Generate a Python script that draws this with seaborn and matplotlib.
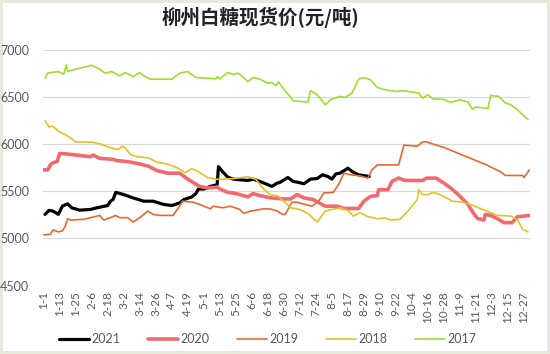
import pandas as pd
import seaborn as sns
import matplotlib.pyplot as plt

# day index (0 = 1-1) and spot price
days_2021 = [1, 4, 7, 11, 14, 18, 21, 27, 35, 40, 48, 50, 52, 54, 60, 67, 75, 82, 90, 96,
             102, 105, 111, 114, 116, 120, 125, 130, 131, 134, 138, 142, 153, 157, 162, 168, 171, 175, 177, 183,
             187, 191, 195, 200, 205, 209, 213, 216, 219, 222, 226, 228, 232, 236, 241, 244]
price_2021 = [5255, 5297, 5290, 5255, 5342, 5367, 5325, 5300, 5307, 5325, 5349, 5395, 5412, 5489, 5465, 5430, 5395, 5395, 5360, 5349,
              5377, 5412, 5440, 5475, 5524, 5524, 5552, 5570, 5762, 5709, 5650, 5629, 5615, 5629, 5605, 5570, 5552, 5587, 5594, 5647,
              5605, 5594, 5580, 5629, 5636, 5675, 5657, 5629, 5685, 5692, 5727, 5745, 5702, 5675, 5664, 5657]

days_2020 = [0, 3, 5, 7, 10, 12, 18, 35, 37, 42, 52, 55, 63, 72, 78, 85, 93, 102, 108, 112,
             117, 123, 130, 132, 138, 142, 147, 153, 157, 162, 170, 180, 185, 190, 195, 202, 211, 220, 225, 236,
             240, 245, 250, 251, 258, 261, 266, 271, 284, 287, 294, 300, 306, 312, 318, 321, 325, 330, 331, 335,
             340, 345, 351, 355, 360, 364]
price_2020 = [5727, 5727, 5780, 5804, 5815, 5902, 5895, 5867, 5885, 5850, 5839, 5825, 5815, 5790, 5769, 5720, 5692, 5692, 5629, 5594,
              5552, 5535, 5545, 5524, 5489, 5482, 5465, 5440, 5475, 5454, 5430, 5419, 5419, 5465, 5430, 5412, 5342, 5342, 5318, 5318,
              5395, 5447, 5454, 5517, 5517, 5605, 5640, 5615, 5615, 5640, 5640, 5587, 5524, 5447, 5360, 5290, 5212, 5195, 5255, 5244,
              5209, 5167, 5167, 5230, 5237, 5244]

days_2019 = [0, 5, 7, 11, 14, 16, 18, 20, 30, 42, 45, 50, 54, 57, 63, 67, 72, 78, 82, 87,
             97, 101, 104, 112, 117, 125, 127, 134, 140, 147, 150, 155, 165, 170, 175, 179, 181, 186, 190, 196,
             201, 206, 210, 217, 221, 225, 230, 237, 243, 246, 250, 266, 270, 280, 284, 287, 292, 297, 300, 332,
             342, 346, 359, 360, 364]
price_2019 = [5037, 5044, 5090, 5069, 5080, 5125, 5209, 5195, 5202, 5244, 5195, 5220, 5244, 5220, 5220, 5174, 5220, 5290, 5255, 5244,
              5244, 5325, 5395, 5384, 5360, 5314, 5342, 5325, 5342, 5307, 5265, 5290, 5314, 5312, 5290, 5255, 5255, 5384, 5384, 5360,
              5342, 5395, 5482, 5489, 5570, 5692, 5675, 5664, 5640, 5727, 5780, 5780, 5990, 5979, 6025, 6025, 6000, 5979, 5965, 5780,
              5710, 5668, 5668, 5647, 5727]

days_2018 = [1, 4, 7, 11, 16, 20, 24, 37, 42, 50, 56, 59, 61, 65, 70, 78, 85, 93, 100, 106,
             111, 115, 123, 130, 142, 153, 159, 165, 170, 175, 180, 185, 192, 198, 205, 211, 216, 222, 228, 232,
             237, 243, 250, 256, 260, 267, 273, 280, 281, 284, 288, 292, 297, 302, 306, 312, 320, 326, 332, 340,
             350, 355, 359, 363]
price_2018 = [6250, 6183, 6190, 6138, 6102, 6067, 6025, 6021, 6004, 5962, 5944, 5979, 5962, 5891, 5867, 5856, 5810, 5786, 5750, 5698,
              5740, 5715, 5645, 5627, 5634, 5655, 5627, 5522, 5462, 5454, 5395, 5325, 5307, 5265, 5174, 5290, 5307, 5325, 5297, 5237,
              5272, 5230, 5209, 5216, 5195, 5202, 5290, 5412, 5517, 5465, 5465, 5489, 5465, 5430, 5395, 5388, 5360, 5325, 5290, 5244,
              5237, 5202, 5097, 5069]

days_2017 = [1, 3, 7, 11, 15, 17, 18, 22, 36, 42, 46, 51, 57, 61, 67, 72, 75, 80, 96, 102,
             108, 114, 129, 130, 132, 138, 142, 146, 153, 157, 162, 168, 171, 174, 176, 180, 187, 198, 200, 205,
             211, 215, 222, 226, 231, 236, 240, 245, 250, 256, 264, 270, 281, 284, 288, 292, 299, 305, 312, 318,
             321, 324, 333, 335, 341, 346, 350, 355, 363]
price_2017 = [6701, 6754, 6764, 6771, 6743, 6842, 6771, 6789, 6838, 6796, 6754, 6771, 6725, 6761, 6718, 6761, 6725, 6690, 6690, 6754,
              6771, 6708, 6694, 6718, 6694, 6761, 6740, 6754, 6666, 6708, 6690, 6648, 6655, 6620, 6660, 6585, 6461, 6447, 6570, 6525,
              6419, 6472, 6507, 6496, 6542, 6690, 6708, 6683, 6602, 6578, 6560, 6567, 6542, 6489, 6525, 6479, 6479, 6444, 6472, 6447,
              6373, 6394, 6380, 6518, 6507, 6437, 6419, 6366, 6261]

years = ['2021', '2020', '2019', '2018', '2017']
tick_labels = ['1-1', '1-13', '1-25', '2-6', '2-18', '3-2', '3-14', '3-26', '4-7', '4-19', '5-1',
               '5-13', '5-25', '6-6', '6-18', '6-30', '7-12', '7-24', '8-5', '8-17', '8-29', '9-10',
               '9-22', '10-4', '10-16', '10-28', '11-9', '11-21', '12-3', '12-15', '12-27']

series = {
    '2021': (days_2021, price_2021),
    '2020': (days_2020, price_2020),
    '2019': (days_2019, price_2019),
    '2018': (days_2018, price_2018),
    '2017': (days_2017, price_2017),
}
colors = {'2021': '#000000', '2020': '#F26A6C', '2019': '#E8682C', '2018': '#E5C223', '2017': '#9CDF2E'}
widths = {'2021': 2.3, '2020': 2.6, '2019': 1.2, '2018': 1.2, '2017': 1.2}

sns.set_theme(style='white')
plt.rcParams['font.family'] = ['Lato', 'Noto Sans CJK SC', 'DejaVu Sans']

fig = plt.figure(figsize=(5.5, 3.54), dpi=100)
fig.patch.set_facecolor('white')
fig.patch.set_edgecolor('#E8E8DC')
fig.patch.set_linewidth(4)
ax = fig.add_axes([0.0782, 0.1935, 0.8855, 0.6653])

for i, yr in enumerate(years):
    d, p = series[yr]
    df = pd.DataFrame({'day': d, 'price': p})
    sns.lineplot(data=df, x='day', y='price', ax=ax, color=colors[yr], linewidth=widths[yr],
                 label=yr, zorder=3 + i, errorbar=None)

ax.set_xlim(-0.5, 364.5)
ax.set_ylim(4500, 7000)
ax.set_yticks(range(4500, 7001, 500))
ax.set_xticks(range(0, 361, 12))
ax.set_xticklabels(tick_labels, rotation=90, va='top', ha='center')
ax.set_xlabel('')
ax.set_ylabel('')
ax.grid(axis='y', color='#D9D9D9', linewidth=0.9)
ax.grid(axis='x', visible=False)
for s in ax.spines.values():
    s.set_visible(False)
ax.tick_params(axis='y', length=0, pad=10, labelsize=9, labelcolor='#595959')
ax.tick_params(axis='x', length=0, pad=4, labelsize=8.5, labelcolor='#595959')

fig.text(0.473, 0.952, '柳州白糖现货价(元/吨)', ha='center', va='center', fontsize=14,
         fontweight='bold', family=['Noto Sans CJK SC', 'DejaVu Sans'], color='#222222')

handles, labels = ax.get_legend_handles_labels()
ax.get_legend().remove()
fig.legend(handles, labels, loc='center', bbox_to_anchor=(0.486, 0.042), ncol=5, frameon=False,
           fontsize=9, handlelength=2.4, handletextpad=0.2, columnspacing=2.2, labelcolor='#595959')

fig.savefig('out.png', dpi=100)
